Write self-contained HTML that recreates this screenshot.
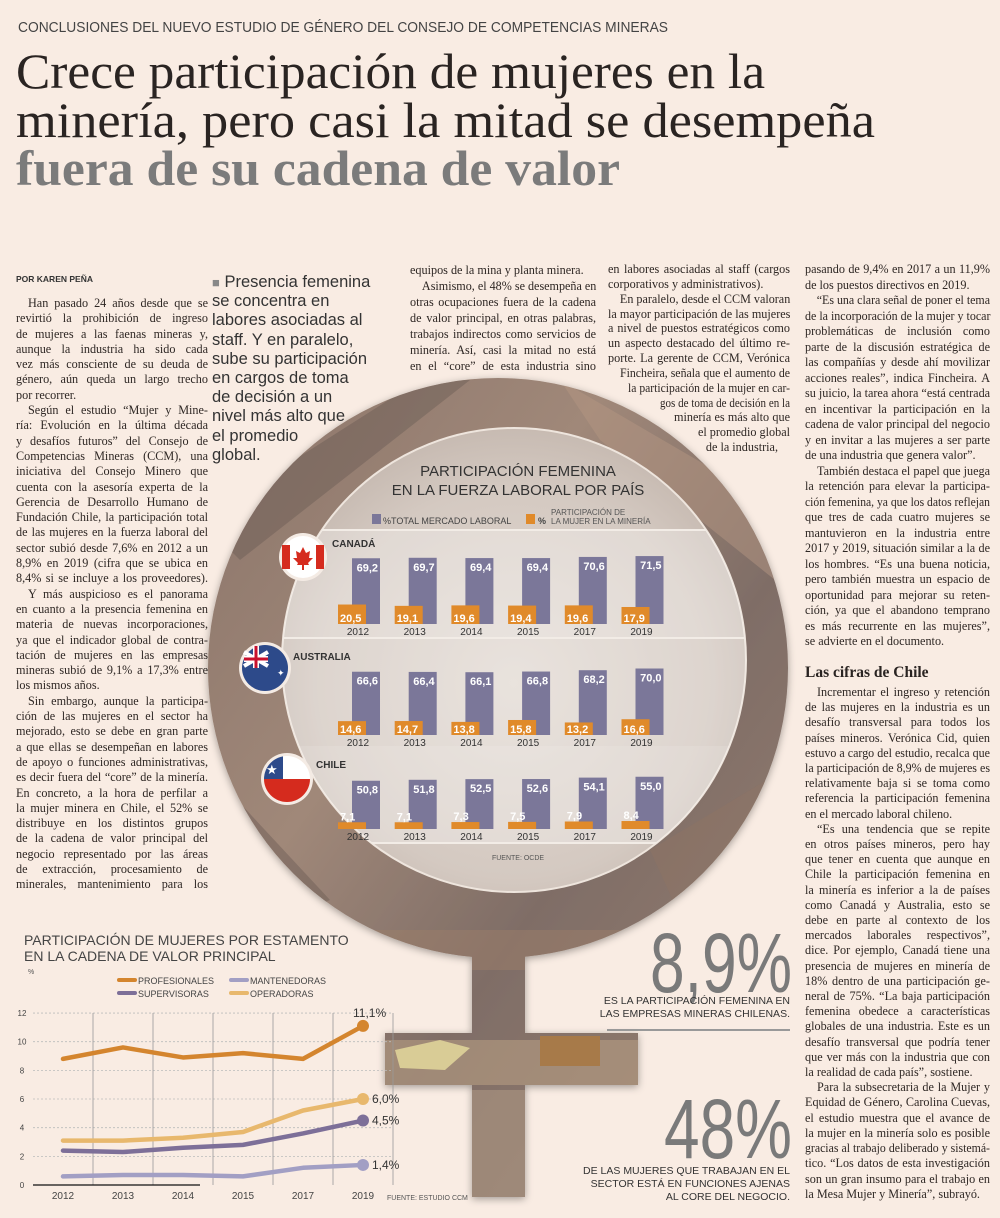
<!DOCTYPE html>
<html><head><meta charset="utf-8">
<style>
html,body{margin:0;padding:0}
body{width:1000px;height:1218px;position:relative;overflow:hidden;background:#f9ece3;font-family:"Liberation Sans",sans-serif}
svg.page{position:absolute;left:0;top:0}
.col{position:absolute;font:12.2px/15.3px "Liberation Serif",serif;color:#2e2724}
.col div{white-space:nowrap;text-align:justify;text-align-last:justify;transform-origin:0 50%}
.col div.e{text-align-last:left}
.col div.i{text-indent:12px}
.col div.r{text-align:right;text-align-last:right}
.pq{position:absolute;left:212px;top:273px;font:16.5px/19.2px "Liberation Sans",sans-serif;color:#333;white-space:nowrap}
</style></head><body>

<svg class="page" width="1000" height="1218" viewBox="0 0 1000 1218">
<defs>
<linearGradient id="rock" x1="0" y1="0" x2="1" y2="1">
<stop offset="0" stop-color="#8a7469"/><stop offset="0.35" stop-color="#a08879"/><stop offset="0.6" stop-color="#7f6d66"/><stop offset="1" stop-color="#9c8474"/></linearGradient>
<radialGradient id="inner" cx="0.5" cy="0.55" r="0.6">
<stop offset="0" stop-color="#e3dbd4"/><stop offset="0.7" stop-color="#d4c9c1"/><stop offset="1" stop-color="#c2b5ac"/></radialGradient>
<clipPath id="venus"><circle cx="498" cy="668" r="290"/><rect x="472" y="900" width="53" height="297"/><rect x="385" y="1033" width="253" height="52"/></clipPath>
<clipPath id="innerClip"><circle cx="514" cy="660" r="232"/></clipPath>
<filter id="sh" x="-10%" y="-10%" width="120%" height="120%"><feDropShadow dx="0" dy="2" stdDeviation="4" flood-color="#000" flood-opacity="0.35"/></filter>
</defs>

<text x="18" y="32" font-family="Liberation Sans" font-size="15" fill="#444" textLength="650" lengthAdjust="spacingAndGlyphs">CONCLUSIONES DEL NUEVO ESTUDIO DE GÉNERO DEL CONSEJO DE COMPETENCIAS MINERAS</text>
<text x="16" y="88" font-family="Liberation Serif" font-size="50" fill="#2a2422" textLength="749" lengthAdjust="spacingAndGlyphs">Crece participación de mujeres en la</text>
<text x="16" y="137" font-family="Liberation Serif" font-size="50" fill="#2a2422" textLength="859" lengthAdjust="spacingAndGlyphs">minería, pero casi la mitad se desempeña</text>
<text x="16" y="185" font-family="Liberation Serif" font-size="50" font-weight="bold" fill="#7b7b7b" textLength="604" lengthAdjust="spacingAndGlyphs">fuera de su cadena de valor</text>
<text x="16" y="282" font-family="Liberation Sans" font-size="8.5" font-weight="bold" fill="#333">POR KAREN PEÑA</text>

<g filter="url(#sh)">
<g clip-path="url(#venus)">
<rect x="200" y="370" width="600" height="840" fill="url(#rock)"/>
<path d="M200 520 L420 380 L470 380 L240 560Z" fill="#6e5d58" opacity="0.5"/>
<path d="M560 380 L800 520 L800 600 L600 440Z" fill="#b39682" opacity="0.5"/>
<path d="M200 760 L330 900 L200 960Z" fill="#6b5a54" opacity="0.45"/>
<path d="M650 850 L800 760 L800 900 L700 960Z" fill="#8e7464" opacity="0.5"/>
<rect x="200" y="930" width="600" height="40" fill="#9b7e6a" opacity="0.5"/>
<rect x="385" y="1040" width="260" height="45" fill="#b59c82" opacity="0.6"/>
<path d="M395 1050 L440 1040 L470 1048 L445 1070 L400 1068Z" fill="#d9cc96"/>
<rect x="540" y="1036" width="60" height="30" fill="#a77a48"/>
<rect x="472" y="1090" width="53" height="110" fill="#a7917f" opacity="0.7"/>
</g>
</g>
<circle cx="514" cy="660" r="232" fill="url(#inner)" stroke="#eee5dd" stroke-width="2"/>
<g clip-path="url(#innerClip)">
<rect x="270" y="530" width="500" height="108" fill="#fff" opacity="0.3"/>
<rect x="270" y="638" width="500" height="108" fill="#fff" opacity="0.22"/>
<rect x="270" y="746" width="500" height="97" fill="#fff" opacity="0.3"/>
<line x1="270" y1="530" x2="770" y2="530" stroke="#f2ece6" stroke-width="2"/>
<line x1="270" y1="638" x2="770" y2="638" stroke="#f2ece6" stroke-width="2"/>
<line x1="270" y1="843" x2="770" y2="843" stroke="#f2ece6" stroke-width="2"/>
</g>

<text x="518" y="476" text-anchor="middle" font-size="15" fill="#333">PARTICIPACIÓN FEMENINA</text>
<text x="518" y="495" text-anchor="middle" font-size="15" fill="#333">EN LA FUERZA LABORAL POR PAÍS</text>
<g>
<rect x="372" y="514" width="9" height="10" fill="#7b7799"/>
<text x="383" y="524" font-size="9" fill="#444">%TOTAL MERCADO LABORAL</text></g>
<g>
<rect x="526" y="514" width="9" height="10" fill="#e08a2a"/>
<text x="538" y="524" font-size="9" font-weight="bold" fill="#444">%</text>
<text x="551" y="515" font-size="8" fill="#555">PARTICIPACIÓN DE</text>
<text x="551" y="524" font-size="8" fill="#555">LA MUJER EN LA MINERÍA</text></g>

<g>
<circle cx="303" cy="557" r="24" fill="#f4ebe4"/>
<circle cx="303" cy="557" r="21" fill="#fff"/>
<path d="M282 545 h8 v24 h-8 Z M316 545 h8 v24 h-8Z" fill="#d52b1e"/>
<path d="M303 547 l3 6 4 -2 -1 7 4 0 -5 5 1 2 h-5 v5 h-2 v-5 h-5 l1 -2 -5 -5 4 0 -1 -7 4 2Z" fill="#d52b1e"/></g>
<g>
<circle cx="265" cy="668" r="26" fill="#f4ebe4"/>
<circle cx="265" cy="668" r="23" fill="#2d4a8a"/>
<path d="M244 652 L268 666 M268 652 L244 666" stroke="#fff" stroke-width="4"/>
<path d="M244 659 H268 M256 646 V668" stroke="#fff" stroke-width="6"/>
<path d="M244 659 H268 M256 646 V668" stroke="#c8102e" stroke-width="3"/>
<text x="277" y="676" font-size="9" fill="#fff">✦</text></g>
<g>
<circle cx="287" cy="779" r="26" fill="#f4ebe4"/>
<clipPath id="clc"><circle cx="287" cy="779" r="23"/></clipPath>
<g clip-path="url(#clc)"><rect x="262" y="756" width="50" height="23" fill="#fff"/><rect x="262" y="779" width="50" height="24" fill="#d52b1e"/><rect x="262" y="756" width="21" height="23" fill="#2d4a8a"/><text x="266" y="774" font-size="13" fill="#fff">★</text></g></g>
<text x="332" y="547" font-size="10" font-weight="bold" fill="#333">CANADÁ</text>
<text x="293" y="660" font-size="10" font-weight="bold" fill="#333">AUSTRALIA</text>
<text x="316" y="768" font-size="10" font-weight="bold" fill="#333">CHILE</text>
<g id="bars"></g>
<text x="518" y="860" text-anchor="middle" font-size="7" fill="#555">FUENTE: OCDE</text>

<text x="24" y="945" font-size="14" fill="#444">PARTICIPACIÓN DE MUJERES POR ESTAMENTO</text>
<text x="24" y="961" font-size="14" fill="#444">EN LA CADENA DE VALOR PRINCIPAL</text>
<text x="28" y="974" font-size="7" fill="#555">%</text>
<g><line x1="119" y1="980" x2="135" y2="980" stroke="#d4852e" stroke-width="4" stroke-linecap="round"/><text x="138" y="984" font-size="9" fill="#444">PROFESIONALES</text></g>
<g><line x1="231" y1="980" x2="247" y2="980" stroke="#a29fc4" stroke-width="4" stroke-linecap="round"/><text x="250" y="984" font-size="9" fill="#444">MANTENEDORAS</text></g>
<g><line x1="119" y1="993" x2="135" y2="993" stroke="#7d6f98" stroke-width="4" stroke-linecap="round"/><text x="138" y="997" font-size="9" fill="#444">SUPERVISORAS</text></g>
<g><line x1="231" y1="993" x2="247" y2="993" stroke="#e8b86d" stroke-width="4" stroke-linecap="round"/><text x="250" y="997" font-size="9" fill="#444">OPERADORAS</text></g>
<g id="lines"></g>
<text x="387" y="1200" font-size="7" fill="#555">FUENTE: ESTUDIO CCM</text>

<text x="792" y="992" text-anchor="end" font-size="84" fill="#7a7a7a" textLength="142" lengthAdjust="spacingAndGlyphs">8,9%</text>
<text x="790" y="1004" text-anchor="end" font-size="10.5" fill="#333">ES LA PARTICIPACIÓN FEMENINA EN</text>
<text x="790" y="1017" text-anchor="end" font-size="10.5" fill="#333">LAS EMPRESAS MINERAS CHILENAS.</text>
<line x1="607" y1="1030" x2="790" y2="1030" stroke="#999" stroke-width="2"/>
<text x="792" y="1158" text-anchor="end" font-size="84" fill="#7a7a7a" textLength="128" lengthAdjust="spacingAndGlyphs">48%</text>
<text x="790" y="1174" text-anchor="end" font-size="10.5" fill="#333">DE LAS MUJERES QUE TRABAJAN EN EL</text>
<text x="790" y="1187" text-anchor="end" font-size="10.5" fill="#333">SECTOR ESTÁ EN FUNCIONES AJENAS</text>
<text x="790" y="1200" text-anchor="end" font-size="10.5" fill="#333">AL CORE DEL NEGOCIO.</text>
</svg>

<div class="pq"><span style="color:#888;font-size:13px">■</span> Presencia femenina<br>se concentra en<br>labores asociadas al<br>staff. Y en paralelo,<br>sube su participación<br>en cargos de toma<br>de decisión a un<br>nivel más alto que<br>el promedio<br>global.</div>

<div class="col" style="left:16px;top:296px;width:192px">
<div class="i">Han pasado 24 años desde que se</div>
<div>revirtió la prohibición de ingreso</div>
<div>de mujeres a las faenas mineras y,</div>
<div>aunque la industria ha sido cada</div>
<div>vez más consciente de su deuda de</div>
<div>género, aún queda un largo trecho</div>
<div class="e">por recorrer.</div>
<div class="i">Según el estudio “Mujer y Mine-</div>
<div>ría: Evolución en la última década</div>
<div>y desafíos futuros” del Consejo de</div>
<div>Competencias Mineras (CCM), una</div>
<div>iniciativa del Consejo Minero que</div>
<div>cuenta con la asesoría experta de la</div>
<div>Gerencia de Desarrollo Humano de</div>
<div>Fundación Chile, la participación total</div>
<div>de las mujeres en la fuerza laboral del</div>
<div>sector subió desde 7,6% en 2012 a un</div>
<div>8,9% en 2019 (cifra que se ubica en</div>
<div>8,4% si se incluye a los proveedores).</div>
<div class="i">Y más auspicioso es el panorama</div>
<div>en cuanto a la presencia femenina en</div>
<div>materia de nuevas incorporaciones,</div>
<div>ya que el indicador global de contra-</div>
<div>tación de mujeres en las empresas</div>
<div>mineras subió de 9,1% a 17,3% entre</div>
<div class="e">los mismos años.</div>
<div class="i">Sin embargo, aunque la participa-</div>
<div>ción de las mujeres en el sector ha</div>
<div>mejorado, esto se debe en gran parte</div>
<div>a que ellas se desempeñan en labores</div>
<div>de apoyo o funciones administrativas,</div>
<div>es decir fuera del “core” de la minería.</div>
<div>En concreto, a la hora de perfilar a</div>
<div>la mujer minera en Chile, el 52% se</div>
<div>distribuye en los distintos grupos</div>
<div>de la cadena de valor principal del</div>
<div>negocio representado por las áreas</div>
<div>de extracción, procesamiento de</div>
<div>minerales, mantenimiento para los</div>
</div>

<div class="col" style="left:410px;top:262px;width:186px;line-height:16px">
<div class="e">equipos de la mina y planta minera.</div>
<div class="i">Asimismo, el 48% se desempeña en</div>
<div>otras ocupaciones fuera de la cadena</div>
<div>de valor principal, en otras palabras,</div>
<div>trabajos indirectos como servicios de</div>
<div>minería. Así, casi la mitad no está</div>
<div>en el “core” de esta industria sino</div>
</div>

<div class="col" style="left:608px;top:262px;width:182px;line-height:14.85px">
<div>en labores asociadas al staff (cargos</div>
<div class="e">corporativos y administrativos).</div>
<div class="i">En paralelo, desde el CCM valoran</div>
<div>la mayor participación de las mujeres</div>
<div>a nivel de puestos estratégicos como</div>
<div>un aspecto destacado del último re-</div>
<div>porte. La gerente de CCM, Verónica</div>
<div style="margin-left:12px">Fincheira, señala que el aumento de</div>
<div style="margin-left:20px">la participación de la mujer en car-</div>
<div style="margin-left:52px">gos de toma de decisión en la</div>
<div style="margin-left:66px">minería es más alto que</div>
<div class="r">el promedio global</div>
<div class="r" style="padding-right:12px">de la industria,</div>
</div>

<div class="col" style="left:805px;top:262px;width:185px;line-height:15.5px">
<div>pasando de 9,4% en 2017 a un 11,9%</div>
<div class="e">de los puestos directivos en 2019.</div>
<div class="i">“Es una clara señal de poner el tema</div>
<div>de la incorporación de la mujer y tocar</div>
<div>problemáticas de inclusión como</div>
<div>parte de la discusión estratégica de</div>
<div>las compañías y desde ahí movilizar</div>
<div>acciones reales”, indica Fincheira. A</div>
<div>su juicio, la tarea ahora “está centrada</div>
<div>en incentivar la participación en la</div>
<div>cadena de valor principal del negocio</div>
<div>y en invitar a las mujeres a ser parte</div>
<div class="e">de una industria que genera valor”.</div>
<div class="i">También destaca el papel que juega</div>
<div>la retención para elevar la participa-</div>
<div>ción femenina, ya que los datos reflejan</div>
<div>que tres de cada cuatro mujeres se</div>
<div>mantuvieron en la industria entre</div>
<div>2017 y 2019, situación similar a la de</div>
<div>los hombres. “Es una buena noticia,</div>
<div>pero también muestra un espacio de</div>
<div>oportunidad para mejorar su reten-</div>
<div>ción, ya que el abandono temprano</div>
<div>es más recurrente en las mujeres”,</div>
<div class="e">se advierte en el documento.</div>
</div>
<div style="position:absolute;left:805px;top:664px;font:bold 15.5px 'Liberation Serif',serif;color:#2a2422">Las cifras de Chile</div>
<div class="col" style="left:805px;top:685px;width:185px;line-height:15.2px">
<div class="i">Incrementar el ingreso y retención</div>
<div>de las mujeres en la industria es un</div>
<div>desafío transversal para todos los</div>
<div>países mineros. Verónica Cid, quien</div>
<div>estuvo a cargo del estudio, recalca que</div>
<div>la participación de 8,9% de mujeres es</div>
<div>relativamente baja si se toma como</div>
<div>referencia la participación femenina</div>
<div class="e">en el mercado laboral chileno.</div>
<div class="i">“Es una tendencia que se repite</div>
<div>en otros países mineros, pero hay</div>
<div>que tener en cuenta que aunque en</div>
<div>Chile la participación femenina en</div>
<div>la minería es inferior a la de países</div>
<div>como Canadá y Australia, esto se</div>
<div>debe en parte al contexto de los</div>
<div>mercados laborales respectivos”,</div>
<div>dice. Por ejemplo, Canadá tiene una</div>
<div>presencia de mujeres en minería de</div>
<div>18% dentro de una participación ge-</div>
<div>neral de 75%. “La baja participación</div>
<div>femenina obedece a características</div>
<div>globales de una industria. Este es un</div>
<div>desafío transversal que podría tener</div>
<div>que ver más con la industria que con</div>
<div class="e">la realidad de cada país”, sostiene.</div>
<div class="i">Para la subsecretaria de la Mujer y</div>
<div>Equidad de Género, Carolina Cuevas,</div>
<div>el estudio muestra que el avance de</div>
<div>la mujer en la minería solo es posible</div>
<div>gracias al trabajo deliberado y sistemá-</div>
<div>tico. “Los datos de esta investigación</div>
<div>son un gran insumo para el trabajo en</div>
<div class="e">la Mesa Mujer y Minería”, subrayó.</div>
</div>

<script>
const barYears = ['2012','2013','2014','2015','2017','2019'];
const canadaTotal = [69.2,69.7,69.4,69.4,70.6,71.5];
const canadaMining = [20.5,19.1,19.6,19.4,19.6,17.9];
const australiaTotal = [66.6,66.4,66.1,66.8,68.2,70.0];
const australiaMining = [14.6,14.7,13.8,15.8,13.2,16.6];
const chileTotal = [50.8,51.8,52.5,52.6,54.1,55.0];
const chileMining = [7.1,7.1,7.3,7.5,7.9,8.4];

const lineYears = ['2012','2013','2014','2015','2017','2019'];
const profesionales = [8.8,9.6,8.9,9.2,8.8,11.1];
const operadoras = [3.1,3.1,3.3,3.7,5.2,6.0];
const supervisoras = [2.4,2.3,2.6,2.8,3.6,4.5];
const mantenedoras = [0.6,0.7,0.7,0.6,1.2,1.4];
const yTicks = [0,2,4,6,8,10,12];

const NS='http://www.w3.org/2000/svg';
function mk(tag, attrs, parent){const e=document.createElementNS(NS,tag);for(const k in attrs)e.setAttribute(k,attrs[k]);parent.appendChild(e);return e;}
const fmt=v=>v.toFixed(1).replace('.',',');

const bars=document.getElementById('bars');
const barX=i=>352+i*56.7;
const barScale=v=>v*0.95;
function drawRow(total, mining, base, key){
  barYears.forEach((yr,i)=>{
    const x=barX(i);
    const ht=barScale(total[i]);
    const r1=mk('rect',{x:x,y:base-ht,width:28,height:ht,fill:'#7b7799'},bars);
    
    
    const t1=mk('text',{x:x+26,y:base-ht+13,'text-anchor':'end','font-size':'11','font-weight':'bold',fill:'#fff'},bars);
    t1.textContent=fmt(total[i]);
    const hm=barScale(mining[i]);
    const r2=mk('rect',{x:x-14,y:base-hm,width:28,height:hm,fill:'#e08a2a'},bars);
    
    
    const t2=mk('text',{x:x-12,y:(hm>10? base-2 : base-hm-2),'font-size':'11','font-weight':'bold',fill:'#fff'},bars);
    t2.textContent=fmt(mining[i]);
    const ty=mk('text',{x:x+6,y:base+11,'text-anchor':'middle','font-size':'10',fill:'#333'},bars);
    ty.textContent=yr;
  });
}
drawRow(canadaTotal,canadaMining,624,'canada');
drawRow(australiaTotal,australiaMining,735,'australia');
drawRow(chileTotal,chileMining,829,'chile');

const lines=document.getElementById('lines');
const PL=33, PW=360, Y0=1185, YS=14.33;
const lx=i=>PL+PW/lineYears.length*(i+0.5);
const ly=v=>Y0-v*YS;
yTicks.forEach(t=>{
  if(t>0){const g=mk('line',{x1:PL,x2:PL+PW,y1:ly(t),y2:ly(t),stroke:'#bbb','stroke-dasharray':'2,2','stroke-width':'0.8'},lines);
  
  }
  const lb=mk('text',{x:22,y:ly(t)+3,'text-anchor':'middle','font-size':'8',fill:'#444'},lines);
  lb.textContent=t;
});
for(let i=1;i<=lineYears.length;i++){
  const g=mk('line',{x1:PL+PW/lineYears.length*i,x2:PL+PW/lineYears.length*i,y1:ly(12),y2:Y0,stroke:'#999','stroke-width':'0.8'},lines);
  
  
}
const ax=mk('line',{x1:PL,x2:200,y1:Y0,y2:Y0,stroke:'#111','stroke-width':'1.2'},lines);


lineYears.forEach((yr,i)=>{
  const t=mk('text',{x:lx(i),y:Y0+14,'text-anchor':'middle','font-size':'10',fill:'#444'},lines);
  t.textContent=yr;
});
const series=[[mantenedoras,'#a29fc4','mantenedoras'],[supervisoras,'#7d6f98','supervisoras'],[operadoras,'#e8b86d','operadoras'],[profesionales,'#d4852e','profesionales']];
series.forEach(([vals,col,nm])=>{
  const p=mk('polyline',{points:vals.map((v,i)=>lx(i)+','+ly(v)).join(' '),fill:'none',stroke:col,'stroke-width':'4.5','stroke-linejoin':'round','stroke-linecap':'round'},lines);
  
  
  const n=vals.length-1;
  const c=mk('circle',{cx:lx(n),cy:ly(vals[n]),r:6,fill:col},lines);
  
  
  const lab=mk('text',{'font-size':'12',fill:'#333'},lines);
  if(nm==='profesionales'){lab.setAttribute('x',lx(n)-10);lab.setAttribute('y',ly(vals[n])-9);}
  else{lab.setAttribute('x',lx(n)+9);lab.setAttribute('y',ly(vals[n])+4);}
  lab.textContent=fmt(vals[n])+'%';
});

document.querySelectorAll('.col div').forEach(d=>{
  const w=d.clientWidth, s=d.scrollWidth;
  if(s>w+0.5){d.style.transform='scaleX('+(w/s)+')';d.style.width=s+'px';}
});
</script>
</body></html>
